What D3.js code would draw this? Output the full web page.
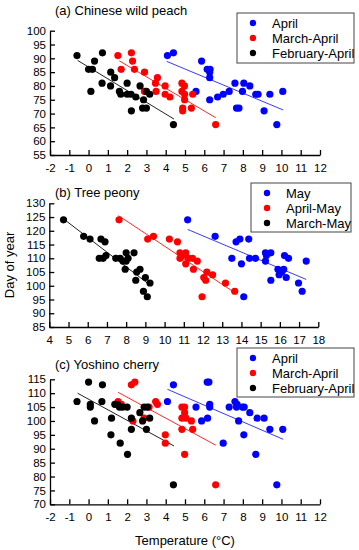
<!DOCTYPE html>
<html>
<head>
<meta charset="utf-8">
<script src="https://cdn.jsdelivr.net/npm/d3@7"></script>
<style>
  body { margin: 0; background: #fff; }
  svg { font-family: "Liberation Sans", Arial, sans-serif; }
</style>
</head>
<body>
<div id="chart"></div>
<script>

// (a) Chinese wild peach - [temperature, day of year]
const peachApr = [[4.09,91],[4.4,92],[5.86,89],[6.15,86],[6.3,86],[6.28,85],[6.28,83],[5.57,78],[6.28,75],
  [6.69,76],[6.98,77],[7.29,78],[7.59,81],[8.05,81],[8.36,80],[7.98,78],[8.67,77],[8.79,77],[9.4,77],
  [10.07,78],[7.67,72],[7.8,72],[9.1,71],[9.76,66]]
const peachMarApr = [[1.52,91],[2.22,92],[2.28,89],[1.69,86],[2.38,86],[2.9,85],[3.57,83],[3.47,81],[3.5,78],
  [2.9,78],[3.97,80],[3.97,77],[4.22,76],[4.84,81],[4.97,80],[4.84,78],[4.98,77],[4.98,75],[5.4,77],
  [4.88,72],[4.88,71],[5.33,72],[6.59,66]]
const peachFebApr = [[-0.6,91],[0.72,92],[0.31,89],[0,86],[0.2,86],[0.12,78],[0.7,81],[1.15,85],[1.35,83],
  [1.14,80],[2,81],[1.6,78],[1.67,77],[2,77],[2.2,77],[2.45,76],[2.67,80],[2.85,75],[2.22,71],[2.8,72],
  [3,72],[3,78],[3.17,77],[4.4,66]]
const peachLines = [[4.05,88.9,10.09,71.3],[1.59,89.1,6.59,68.5],[-0.57,89.25,4.43,68]]

// (b) Tree peony
const peonyMay = [[11.2,124],[12.63,118],[13.72,116],[13.92,117],[14.38,117],[13.5,110],[14,108],[14.42,110],
  [14.73,110],[15.25,109],[15.25,112],[15.53,112],[15.3,111],[16.24,111],[16.45,110],[17.37,109],[15.9,106],
  [16.1,105],[16.2,106],[15.96,104],[16.33,103],[15.53,102],[16.97,101],[17.16,98],[14.12,96]]
const peonyAprMay = [[7.63,124],[9.12,117],[9.42,118],[10.25,117],[10.67,116],[10.8,112],[11.1,112],[10.8,110],
  [10.95,111],[11.25,110],[11.45,110],[11.1,108],[11.7,109],[11.5,106],[12.2,105],[12.5,104],[12.04,103],
  [12.14,102],[13.17,101],[13.65,98],[11.95,96]]
const peonyMarMay = [[4.74,124],[5.79,118],[6.12,117],[6.69,117],[6.9,116],[6.6,110],[6.8,110],[6.95,111],
  [7.46,110],[7.69,110],[7.83,109],[8,109],[8,112],[8.41,112],[8.1,110],[7.95,106],[8.55,105],[8.72,106],
  [8.5,102],[9,103],[9.24,101],[8.9,98],[9.1,96]]
const peonyLines = [[11.2,120.5,17.37,102.3],[7.6,125.5,13.67,97.4],[4.82,123.9,9.12,100.9]]

// (c) Yoshino cherry
const cherryApr = [[4.4,113],[4.09,107],[6.15,114],[6.24,114],[5.57,105],[6.28,106],[6.28,105],[5.86,100],
  [6.17,101],[6.98,92],[7.29,105],[7.59,107],[7.7,106],[7.67,105],[7.98,105],[8.07,105],[7.78,100],[8.36,103],
  [8.74,101],[9.1,101],[8.05,95],[9.4,97],[10.07,97],[8.67,88],[9.76,77]]
const cherryMarApr = [[2.22,113],[2.4,114],[1.53,107],[1.7,106],[2.3,100],[2.88,101],[3.48,107],[3.57,106],
  [3.14,105],[3.98,95],[3.98,92],[4.84,105],[4.98,105],[4.98,103],[4.84,101],[5.05,101],[5.33,100],
  [4.84,97],[5.4,97],[4.98,88],[6.59,77]]
const cherryFebApr = [[-0.6,107],[0,114],[0.72,113],[0.09,105],[0.09,106],[0.31,100],[0.69,107],[1.16,95],
  [1.19,101],[1.36,106],[1.5,106],[1.6,105],[1.76,105],[2,105],[1.64,92],[2.02,88],[2.22,101],[2.22,97],
  [2.66,103],[2.8,100],[3,97],[2.88,105],[3.05,105],[3.17,101],[4.4,77]]
const cherryLines = [[4.09,111.4,10.09,93.4],[1.53,110.3,6.59,91.3],[-0.57,110,4.43,91]]

const colors = ["#0000ff", "#ff0000", "#000000"]
const lineColors = ["#3a3aff", "#ff2a2a", "#222222"]

const panels = [
  {title: "(a) Chinese wild peach", xd: [-2, 12], yd: [55, 100], x0: 50, x1: 320, yTop: 30.7, yBot: 155,
   series: [peachApr, peachMarApr, peachFebApr], lines: peachLines,
   legend: ["April", "March-April", "February-April"], lx: 237, ly: 13, lw: 117, lh: 50, titleY: 15},
  {title: "(b) Tree peony", xd: [4, 18], yd: [85, 130], x0: 49.3, x1: 318.3, yTop: 203.3, yBot: 327,
   series: [peonyMay, peonyAprMay, peonyMarMay], lines: peonyLines,
   legend: ["May", "April-May", "March-May"], lx: 251, ly: 183, lw: 100, lh: 49, titleY: 197},
  {title: "(c) Yoshino cherry", xd: [-2, 12], yd: [70, 115], x0: 50, x1: 320, yTop: 379.3, yBot: 504.3,
   series: [cherryApr, cherryMarApr, cherryFebApr], lines: cherryLines,
   legend: ["April", "March-April", "February-April"], lx: 237, ly: 348, lw: 117, lh: 49, titleY: 369}
]

const svg = d3.select("#chart")
    .append("svg")
    .attr("width", 359)
    .attr("height", 550)

panels.forEach(p => {
    const x = d3.scaleLinear().domain(p.xd).range([p.x0, p.x1])
    const y = d3.scaleLinear().domain(p.yd).range([p.yBot, p.yTop])
    const g = svg.append("g")

    // axes, ticks pointing inward, plain hyphen minus
    const xAxis = g.append("g")
        .attr("transform", `translate(0, ${p.yBot})`)
        .call(d3.axisBottom(x).ticks(14).tickFormat(d => String(d))
            .tickSizeInner(-5).tickSizeOuter(0).tickPadding(9))
    const yAxis = g.append("g")
        .attr("transform", `translate(${p.x0}, 0)`)
        .call(d3.axisLeft(y).ticks(9).tickFormat(d => String(d))
            .tickSizeInner(-5).tickSizeOuter(0).tickPadding(4))

    for (const ax of [xAxis, yAxis]) {
        ax.selectAll("path, line").attr("stroke", "#000").attr("stroke-width", 1.3)
        ax.selectAll("text").attr("font-size", 11.5).attr("fill", "#000")
            .style("font-family", "'Liberation Sans', Arial, sans-serif")
    }

    g.append("text")
        .attr("x", 55)
        .attr("y", p.titleY)
        .attr("font-size", 13)
        .text(p.title)

    // regression lines
    g.selectAll("line.fit")
        .data(p.lines)
        .enter()
        .append("line")
        .attr("x1", d => x(d[0]))
        .attr("y1", d => y(d[1]))
        .attr("x2", d => x(d[2]))
        .attr("y2", d => y(d[3]))
        .attr("stroke", (d, i) => lineColors[i])
        .attr("stroke-width", 1)

    // points
    p.series.forEach((s, i) => {
        g.append("g")
            .selectAll("circle")
            .data(s)
            .enter()
            .append("circle")
            .attr("cx", d => x(d[0]))
            .attr("cy", d => y(d[1]))
            .attr("r", 3.6)
            .attr("fill", colors[i])
    })

    // legend
    const leg = g.append("g")
    leg.append("rect")
        .attr("x", p.lx).attr("y", p.ly)
        .attr("width", p.lw).attr("height", p.lh)
        .attr("fill", "#fff")
        .attr("stroke", "#444")
        .attr("stroke-width", 1)
    p.legend.forEach((name, i) => {
        const cy = p.ly + 10 + i * 15
        leg.append("circle")
            .attr("cx", p.lx + 16).attr("cy", cy).attr("r", 3.2)
            .attr("fill", colors[i])
        leg.append("text")
            .attr("x", p.lx + 35).attr("y", cy + 4.5)
            .attr("font-size", 13)
            .text(name)
    })
})

svg.append("text")
    .attr("transform", "translate(14, 265) rotate(-90)")
    .attr("text-anchor", "middle")
    .attr("font-size", 13)
    .text("Day of year")

svg.append("text")
    .attr("x", 185)
    .attr("y", 545)
    .attr("text-anchor", "middle")
    .attr("font-size", 13)
    .text("Temperature (°C)")

</script>
</body>
</html>
